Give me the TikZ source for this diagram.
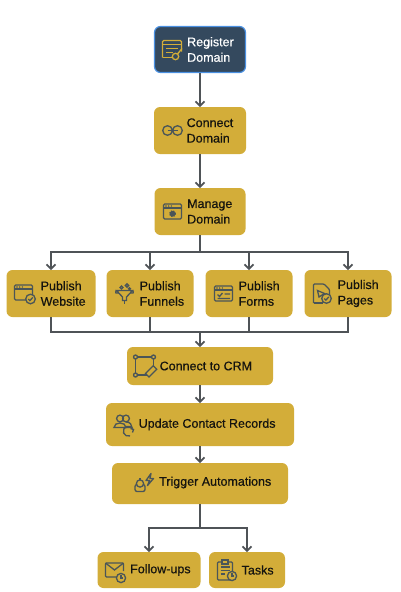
\documentclass[tikz,border=0pt]{standalone}
\usepackage{fontspec}
\setmainfont[RawFeature={embolden=0.55}]{Liberation Sans}
\usepackage{xcolor}
\usetikzlibrary{arrows.meta, positioning, calc}
\definecolor{flowgold}{HTML}{D3AD39}
\definecolor{flownavy}{HTML}{34495E}
\definecolor{flowblue}{HTML}{4A90E2}
\definecolor{flowline}{HTML}{4F5357}
\definecolor{flowicon}{HTML}{4A5558}
\definecolor{flowink}{HTML}{15140F}

\tikzset{
  winicon/.pic={
    \draw[rounded corners=1.2pt] (-9,-7.5) rectangle (9,7.5);
    \draw (-9,3.5) -- (9,3.5);
    \fill (-6.5,5.5) circle (.8) (-3.8,5.5) circle (.8) (-1.1,5.5) circle (.8);
  },
  tickicon/.pic={
    \draw[fill=flowgold] (0,0) circle (4.8);
    \draw (-2.2,0) -- (-.6,-1.6) -- (2.3,1.6);
  },
  clockicon/.pic={
    \draw[fill=flowgold] (0,0) circle (4.6);
    \draw (0,2.6) -- (0,0) -- (2.2,0);
  }
}

\begin{document}
\begin{tikzpicture}[x=1pt, y=1pt,
      basebox/.style={rectangle, rounded corners=6pt, inner sep=0pt, outer sep=0pt},
      goldbox/.style={basebox, fill=flowgold},
      navybox/.style={basebox, fill=flownavy, draw=flowblue, line width=1.2pt},
      boxtext/.style={inner sep=0pt, align=left, text=flowink,
        font=\fontsize{12.5}{15.5}\selectfont},
      flow/.style={draw=flowline, line width=1.7pt},
      flowarrow/.style={flow, -{Straight Barb[length=4.5pt, width=9pt]}},
      node distance=32.5pt
    ]
      \useasboundingbox (0,0) rectangle (400,-592);
      % top column
      \node[navybox, minimum width=91pt, minimum height=46pt] (register) at (200,-49.5) {};
      \node[goldbox, minimum width=92pt, minimum height=47pt, below=34.5pt of register] (connect) {};
      \node[goldbox, minimum width=91pt, minimum height=47pt, below=34pt of connect] (manage) {};
      % publish row
      \node[goldbox, minimum width=89pt, minimum height=47pt, below=35pt of manage, xshift=-149pt] (website) {};
      \node[goldbox, minimum width=87pt, minimum height=47pt, below=35pt of manage, xshift=-50pt] (funnels) {};
      \node[goldbox, minimum width=87pt, minimum height=47pt, below=35pt of manage, xshift=49pt] (forms) {};
      \node[goldbox, minimum width=87pt, minimum height=47pt, below=35pt of manage, xshift=148pt] (pages) {};
      % lower column
      \node[goldbox, minimum width=146pt, minimum height=38pt, below=112pt of manage] (crm) {};
      \node[goldbox, minimum width=188pt, minimum height=43pt, below=18pt of crm] (update) {};
      \node[goldbox, minimum width=176pt, minimum height=41pt, below=17pt of update] (trigger) {};
      \node[goldbox, minimum width=103pt, minimum height=36pt, below=48pt of trigger, xshift=-51pt] (followups) {};
      \node[goldbox, minimum width=76pt, minimum height=36pt, below=48pt of trigger, xshift=47pt] (tasks) {};
      % texts
      \node[boxtext, text=white, right=of register.west] (registertxt) {Register\\Domain};
      \node[boxtext, right=of connect.west] (connecttxt) {Connect\\Domain};
      \node[boxtext, right=of manage.west] (managetxt) {Manage\\Domain};
      \node[boxtext, right=34pt of website.west] (websitetxt) {Publish\\Website};
      \node[boxtext, right=33pt of funnels.west] (funnelstxt) {Publish\\Funnels};
      \node[boxtext, right=33pt of forms.west] (formstxt) {Publish\\Forms};
      \node[boxtext, right=33pt of pages.west] (pagestxt) {Publish\\Pages};
      \node[boxtext, right=of crm.west] (crmtxt) {Connect to CRM};
      \node[boxtext, right=of update.west] (updatetxt) {Update Contact Records};
      \node[boxtext, right=47pt of trigger.west, yshift=1pt] (triggertxt) {Trigger Automations};
      \node[boxtext, right=of followups.west] (followupstxt) {Follow-ups};
      \node[boxtext, right=of tasks.west] (taskstxt) {Tasks};
      % bus corners
      \coordinate[below=17pt of manage] (splitbus);
      \coordinate[above=15pt of crm] (joinbus);
      \coordinate[below=24pt of trigger] (lowbus);
      % connectors
      \draw[flowarrow] (register) -- (connect);
      \draw[flowarrow] (connect) -- (manage);
      \draw[flow] (manage) -- (splitbus);
      \draw[flowarrow] (splitbus) -| (website.north);
      \draw[flowarrow] (splitbus) -| (funnels.north);
      \draw[flowarrow] (splitbus) -| (forms.north);
      \draw[flowarrow] (splitbus) -| (pages.north);
      \draw[flow] (website.south) |- (joinbus);
      \draw[flow] (funnels.south) |- (joinbus);
      \draw[flow] (forms.south) |- (joinbus);
      \draw[flow] (pages.south) |- (joinbus);
      \draw[flowarrow] (joinbus) -- (crm);
      \draw[flowarrow] (crm) -- (update);
      \draw[flowarrow] (update) -- (trigger);
      \draw[flow] (trigger) -- (lowbus);
      \draw[flowarrow] (lowbus) -| (followups.north);
      \draw[flowarrow] (lowbus) -| (tasks.north);
      % icons
      \begin{scope}[shift={($(register.west)+(17.5,0)$)}, draw=flowgold, line width=1.3pt]
        \draw[rounded corners=1.2pt] (-9.5,-8) -- (-9.5,9) -- (9.5,9) -- (9.5,-2);
        \draw (-9.5,-8) -- (2,-8);
        \draw (-9.5,5) -- (9.5,5) (-6,1) -- (6,1) (-6,-3) -- (1,-3);
        \draw[fill=flownavy] (3.5,-7) circle (3.2);
        \draw (5.5,-4.5) -- (10,1);
      \end{scope}
      \begin{scope}[shift={($(connect.west)+(18.5,0)$)}, draw=flowicon, line width=1.3pt]
        \draw (-5,0) circle (4.8) (5,0) circle (4.8);
        \draw (-5,0) -- (5,0);
      \end{scope}
      \begin{scope}[shift={($(manage.west)+(18,0)$)}, draw=flowicon, fill=flowicon, line width=1.3pt]
        \pic {winicon};
        \draw[fill=flowicon, densely dotted] (0,-2.2) circle (2.8);
      \end{scope}
      \begin{scope}[shift={($(website.west)+(17,1)$)}, draw=flowicon, fill=flowicon, line width=1.3pt]
        \pic {winicon};
        \pic at (7,-6.5) {tickicon};
      \end{scope}
      \begin{scope}[shift={($(funnels.west)+(18,0)$)}, draw=flowicon, line width=1.3pt]
        \draw (-8,3) -- (8,3) -- (2,-3.5) -- (2,-7) -- (-2,-7) -- (-2,-3.5) -- cycle;
        \draw (-8,3) .. controls (-10,1) and (-8,-1) .. (-6,0.5);
        \draw (8,3) .. controls (10,1) and (8,-1) .. (6,0.5);
        \draw (-3,6) circle (1.5) (2.5,8) circle (1.6) (5,4.8) circle (1);
        \draw (0,-7) -- (0,-10);
      \end{scope}
      \begin{scope}[shift={($(forms.west)+(18,0)$)}, draw=flowicon, fill=flowicon, line width=1.3pt]
        \pic {winicon};
        \draw (-6,-1) -- (-4,-3) -- (-1,0.5) (1,-.5) -- (6.5,-.5) (-6,-5) -- (6.5,-5);
      \end{scope}
      \begin{scope}[shift={($(pages.west)+(17,0)$)}, draw=flowicon, line width=1.3pt]
        \draw[rounded corners=1pt] (-8,-9.5) -- (-8,9.5) -- (2.5,9.5) -- (8,4) -- (8,-1);
        \draw (-8,-9.5) -- (1,-9.5);
        \draw (-4,3) -- (3,0) -- (-2.5,-3.5) -- cycle;
        \pic at (5,-5) {tickicon};
      \end{scope}
      \begin{scope}[shift={($(crm.west)+(17.5,0)$)}, draw=flowicon, line width=1.3pt]
        \draw (-9,9) -- (9,9) -- (9,-2) (-9,9) -- (-9,-9) -- (3,-9);
        \foreach \cx/\cy in {-9/9, 9/9, -9/-9} {\draw[fill=flowgold] (\cx,\cy) circle (2);}
        \draw[fill=flowgold, rotate around={45:(7,-5)}] (1,-7.5) rectangle (12,-2.5);
      \end{scope}
      \begin{scope}[shift={($(update.west)+(17,0)$)}, draw=flowicon, line width=1.3pt]
        \draw (-3,6) circle (3.4) (3,6) circle (3.4);
        \draw (-9,-3) .. controls (-9,3) and (3,3) .. (3,-3) -- cycle;
        \draw (3,2.5) .. controls (7,2.5) and (9,0) .. (9,-3) -- (3,-3);
        \draw (10,-5) arc (20:290:5);
        \draw (9.5,-8) -- (10.5,-5) -- (7.5,-4);
      \end{scope}
      \begin{scope}[shift={($(trigger.west)+(32,0)$)}, draw=flowicon, fill=flowicon, line width=1.3pt]
        \draw[rounded corners=2pt] (-9,-8) rectangle (1,-1);
        \draw[fill=flowgold] (-4,0) circle (3.6);
        \draw (-4,3.6) -- (-4,5.5);
        \draw[fill=none, line join=round] (7,10) -- (2,3) -- (5.5,3) -- (3.5,-2) -- (9.5,5) -- (6,5) -- cycle;
      \end{scope}
      \begin{scope}[shift={($(followups.west)+(17,0)$)}, draw=flowicon, line width=1.3pt]
        \draw[rounded corners=1pt] (2,-7) -- (-9,-7) -- (-9,7) -- (9,7) -- (9,-1);
        \draw (-9,7) -- (0,0) -- (9,7);
        \pic at (6.5,-8) {clockicon};
      \end{scope}
      \begin{scope}[shift={($(tasks.west)+(16,-2)$)}, draw=flowicon, line width=1.3pt]
        \draw[rounded corners=1pt] (-7.5,-8) rectangle (7.5,10);
        \draw[fill=flowgold] (-3,8) rectangle (3,12);
        \draw (-4.5,5) -- (4.5,5) (-4.5,1.5) -- (4.5,1.5) (-4.5,-2) -- (0,-2);
        \pic at (7,-4) {clockicon};
      \end{scope}
    \end{tikzpicture}
\end{document}
